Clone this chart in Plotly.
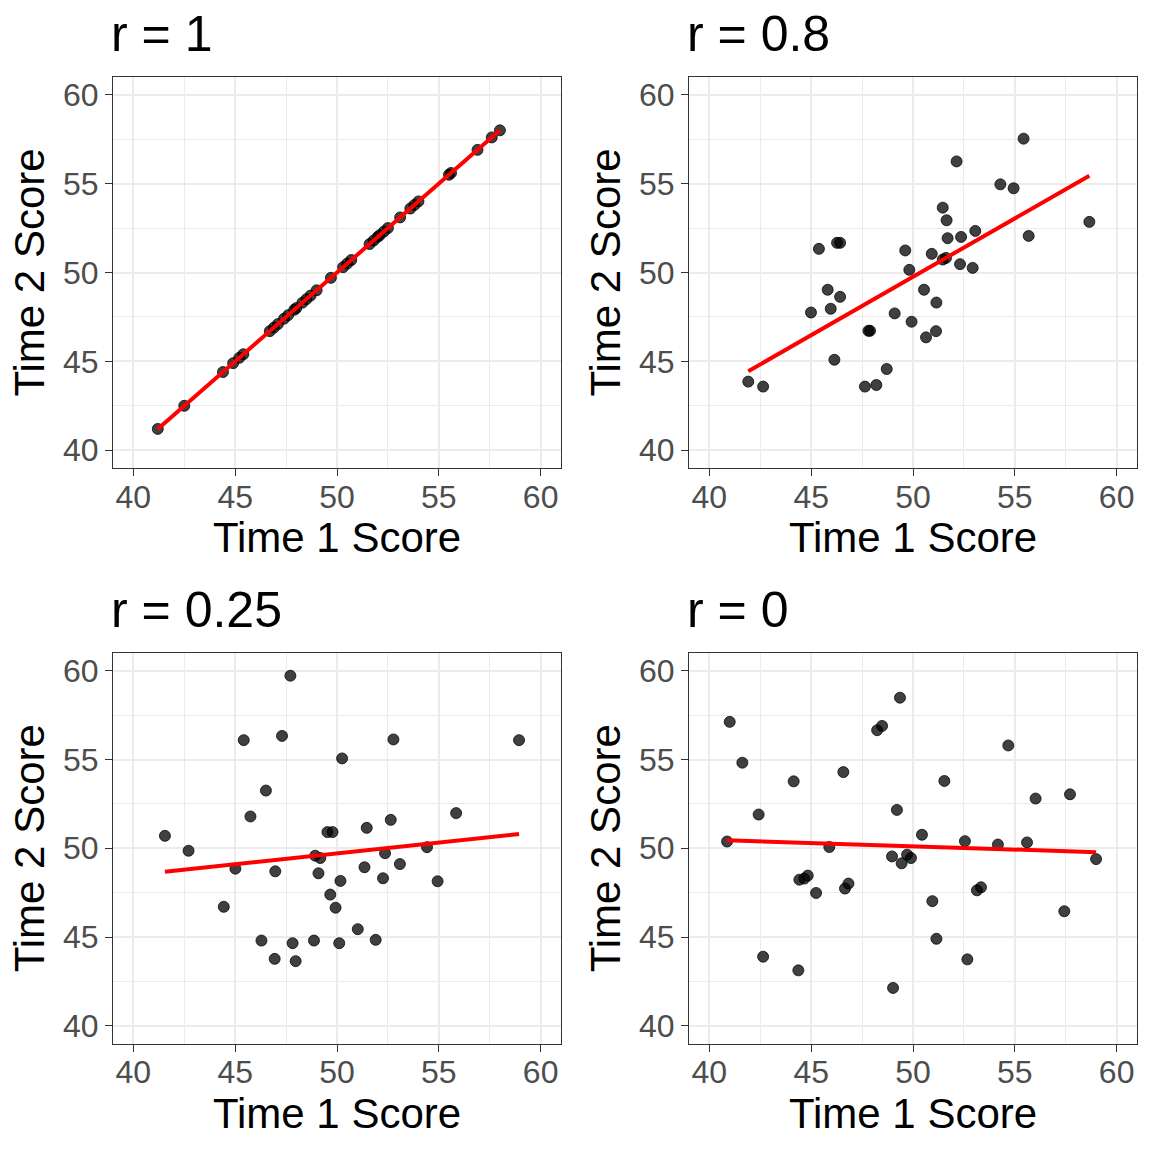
import numpy as np
import plotly.graph_objects as go
from plotly.subplots import make_subplots

# Panel titles
panel_titles = ["r = 1", "r = 0.8", "r = 0.25", "r = 0"]

# r = 1 (time 2 equals time 1)
x_r1 = [41.2, 42.5, 44.4, 44.9, 45.2, 45.4, 46.7, 46.9, 47.1, 47.4, 47.6, 47.9,
        48.0, 48.3, 48.5, 48.7, 49.0, 49.7, 50.3, 50.5, 50.7, 51.6, 51.8, 52.0,
        52.1, 52.3, 52.5, 53.1, 53.6, 53.8, 54.0, 55.5, 55.6, 56.9, 57.6, 58.0]
y_r1 = list(x_r1)

# r = 0.8
x_r08 = [41.91, 42.64, 45.38, 46.27, 46.42, 45.81, 46.42, 45.96, 44.99, 46.14,
         47.81, 47.89, 47.64, 48.20, 48.71, 49.10, 49.62, 49.82, 49.93, 50.54,
         51.15, 51.13, 50.64, 50.92, 51.46, 51.62, 51.46, 51.65, 51.70, 52.31,
         52.36, 52.14, 52.93, 53.06, 54.29, 54.94, 55.43, 55.68, 58.66]
y_r08 = [43.86, 43.58, 51.33, 51.67, 51.67, 49.03, 48.63, 47.96, 47.75, 45.09,
         46.72, 46.72, 43.58, 43.67, 44.57, 47.70, 51.24, 50.15, 47.23, 49.03,
         48.31, 46.70, 46.35, 51.05, 50.73, 50.82, 53.65, 52.94, 51.93, 50.47,
         52.00, 56.25, 50.26, 52.34, 54.96, 54.74, 57.53, 52.06, 52.85]

# r = 0.25
x_r025 = [41.55, 42.71, 45.01, 44.44, 45.42, 45.75, 46.51, 46.97, 47.30, 47.71,
          46.29, 46.94, 47.82, 47.97, 48.87, 48.93, 49.18, 49.09, 49.53, 49.78,
          49.67, 49.93, 50.11, 50.17, 50.25, 51.02, 51.35, 51.46, 51.90, 52.26,
          52.36, 52.64, 52.77, 53.09, 54.42, 54.94, 55.85, 58.94]
y_r025 = [50.70, 49.86, 48.85, 46.70, 56.09, 51.79, 53.25, 48.70, 56.33, 59.72,
          44.80, 43.77, 44.65, 43.64, 44.80, 49.58, 49.45, 48.59, 50.91, 50.91,
          47.39, 46.65, 44.65, 48.16, 55.06, 45.44, 48.93, 51.15, 44.84, 48.31,
          49.72, 51.60, 56.13, 49.11, 50.06, 48.14, 51.98, 56.09]

# r = 0
x_r0 = [40.87, 41.00, 41.62, 42.42, 42.64, 44.14, 44.37, 44.42, 44.66, 44.83,
        45.24, 45.89, 46.58, 46.66, 46.83, 48.24, 48.48, 48.97, 49.02, 49.21,
        49.36, 49.44, 49.71, 49.90, 50.44, 50.95, 51.15, 51.54, 52.55, 52.67,
        53.14, 53.34, 54.17, 54.68, 55.60, 56.02, 57.43, 57.71, 58.99]
y_r0 = [50.38, 57.12, 54.82, 51.90, 43.89, 53.77, 43.12, 48.23, 48.29, 48.46,
        47.48, 50.07, 54.29, 47.73, 48.01, 56.65, 56.89, 49.54, 42.13, 52.16,
        58.48, 49.15, 49.64, 49.45, 50.76, 47.02, 44.90, 53.79, 50.40, 43.74,
        47.63, 47.80, 50.21, 55.79, 50.33, 52.80, 46.45, 53.04, 49.39]

tick_vals = [40, 45, 50, 55, 60]
x_title = "Time 1 Score"
y_title = "Time 2 Score"

panels = [(x_r1, y_r1), (x_r08, y_r08), (x_r025, y_r025), (x_r0, y_r0)]

W = H = 1152
# plot-area boxes in pixels: (left, right), (top, bottom)
cols_px = [(113, 561), (689, 1137)]
rows_px = [(77, 468), (653, 1043.5)]

FONT = "Liberation Sans, Arial"

fig = make_subplots(rows=2, cols=2)

for i, (xs, ys) in enumerate(panels):
    r, c = i // 2 + 1, i % 2 + 1
    xs = np.array(xs)
    ys = np.array(ys)

    fig.add_trace(go.Scatter(
        x=xs, y=ys, mode="markers",
        marker=dict(size=11, color="rgba(0,0,0,0.75)",
                    line=dict(color="rgba(0,0,0,0.75)", width=1)),
        showlegend=False, hoverinfo="x+y"
    ), row=r, col=c)

    # least squares line over the range of the data (like geom_smooth lm)
    slope, intercept = np.polyfit(xs, ys, 1)
    lx = np.array([xs.min(), xs.max()])
    fig.add_trace(go.Scatter(
        x=lx, y=intercept + slope * lx, mode="lines",
        line=dict(color="#FF0000", width=4),
        showlegend=False, hoverinfo="skip"
    ), row=r, col=c)

axis_common = dict(
    range=[39, 61], tickvals=tick_vals, ticks="outside", ticklen=7,
    tickwidth=1.2, tickcolor="#333333",
    tickfont=dict(family=FONT, size=32, color="#4D4D4D"),
    showline=True, mirror=True, linecolor="#333333", linewidth=1.2,
    showgrid=True, gridcolor="#EBEBEB", gridwidth=1.6,
    minor=dict(dtick=2.5, tick0=40, showgrid=True, gridcolor="#EBEBEB", gridwidth=0.8),
    zeroline=False, fixedrange=True,
)

for i in range(4):
    r, c = i // 2, i % 2
    left, right = cols_px[c]
    top, bottom = rows_px[r]
    xd = [left / W, right / W]
    yd = [1 - bottom / H, 1 - top / H]
    n = "" if i == 0 else str(i + 1)
    fig.layout["xaxis" + n].update(
        domain=xd, **axis_common, ticklabelstandoff=-7,
        title=dict(text=x_title, standoff=2,
                   font=dict(family=FONT, size=42, color="black")))
    fig.layout["yaxis" + n].update(
        domain=yd, **axis_common,
        title=dict(text=y_title, standoff=5,
                   font=dict(family=FONT, size=42, color="black")))

    fig.add_annotation(
        text=panel_titles[i], xref="paper", yref="paper",
        x=(left - 3) / W, y=1 - (top - 14) / H, xanchor="left", yanchor="bottom",
        showarrow=False, borderpad=0,
        font=dict(family=FONT, size=50, color="black"))

fig.update_layout(
    width=W, height=H,
    margin=dict(l=0, r=0, t=0, b=0),
    plot_bgcolor="white", paper_bgcolor="white",
)

# drop the browser's default 8px body margin so the figure fills the window
fig.write_html("out.html", config={"displayModeBar": False},
               post_script="document.body.style.margin = '0';")
